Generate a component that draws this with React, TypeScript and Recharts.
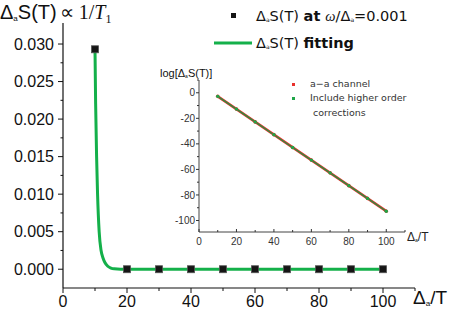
import React from 'react';
import { ComposedChart, Line, Scatter, XAxis, YAxis } from 'recharts';

// main panel: Δ_aS(T) at ω/Δ_a = 0.001
const pointX = [10, 20, 30, 40, 50, 60, 70, 80, 90, 100];
const pointY = [0.0293, 0, 0, 0, 0, 0, 0, 0, 0, 0];

// fitting curve
const fitX = [10, 10.2, 10.5, 10.8, 11.3, 11.9, 12.5, 13.1, 14, 15, 16, 18, 20, 30, 40, 50, 60, 70, 80, 90, 100];
const fitY = [0.0293, 0.022, 0.015, 0.01, 0.005, 0.0025, 0.0015, 0.0009, 0.0004, 0.00015, 0.00005, 0, 0, 0, 0, 0, 0, 0, 0, 0, 0];

// inset: log[Δ_aS(T)]
const insetX = [10, 20, 30, 40, 50, 60, 70, 80, 90, 100];
const channelY = [-2.8, -12.8, -22.8, -32.8, -42.8, -52.7, -62.7, -72.7, -82.7, -92.7];
const higherY = [-2.8, -12.8, -22.8, -32.8, -42.8, -52.7, -62.7, -72.7, -82.7, -92.7];

const mainXTicks = [0, 20, 40, 60, 80, 100];
const mainXMinor = [10, 30, 50, 70, 90, 110];
const mainYTicks = [0, 0.005, 0.01, 0.015, 0.02, 0.025, 0.03];
const mainYMinor = [0.0025, 0.0075, 0.0125, 0.0175, 0.0225, 0.0275];
const insetXTicks = [0, 20, 40, 60, 80, 100];
const insetXMinor = [10, 30, 50, 70, 90, 110];
const insetYTicks = [0, -20, -40, -60, -80, -100];
const insetYMinor = [10, -10, -30, -50, -70, -90];

const GREEN = '#14b04a';
const SANS = '"Liberation Sans", Arial, sans-serif';
const ROUND = '"DejaVu Sans", sans-serif';

const points = pointX.map((x, i) => ({ x, y: pointY[i] }));
const fit = fitX.map((x, i) => ({ x, y: fitY[i] }));
const inset = insetX.map((x, i) => ({ x, a: channelY[i], b: higherY[i] }));

function bottomTick(majors: number[], majorLen: number, minorLen: number, up: boolean, fs: number, gap: number, color: string) {
  return (props: any) => {
    const { x, y, payload } = props;
    const isMajor = majors.includes(payload.value);
    const len = isMajor ? majorLen : minorLen;
    return (
      <g>
        <line x1={x} x2={x} y1={y} y2={up ? y - len : y + len} stroke={color} strokeWidth={1} />
        {isMajor && (
          <text x={x} y={y + gap} textAnchor="middle" fontSize={fs} fontFamily={SANS} fill={color}>
            {payload.value}
          </text>
        )}
      </g>
    );
  };
}

function leftTick(majors: number[], majorLen: number, minorLen: number, fs: number, gap: number, color: string, fmt: (v: number) => string) {
  return (props: any) => {
    const { x, y, payload } = props;
    const isMajor = majors.includes(payload.value);
    const len = isMajor ? majorLen : minorLen;
    return (
      <g>
        <line x1={x - len} x2={x} y1={y} y2={y} stroke={color} strokeWidth={1} />
        {isMajor && (
          <text x={x - majorLen - gap} y={y} dy="0.36em" textAnchor="end" fontSize={fs} fontFamily={SANS} fill={color}>
            {fmt(payload.value)}
          </text>
        )}
      </g>
    );
  };
}

const Square = (props: any) => {
  const { cx, cy } = props;
  return <rect x={cx - 3.5} y={cy - 3.5} width={7} height={7} fill="#151515" stroke="#555" strokeWidth={0.8} />;
};

export default function App() {
  return (
    <div style={{ position: 'absolute', left: 0, top: 0, width: 450, height: 310, background: '#fff' }}>
      <div style={{ position: 'absolute', left: 0, top: 0 }}>
        <ComposedChart width={450} height={310} margin={{ top: 23, right: 35, bottom: 0, left: 0 }}>
          <XAxis
            dataKey="x"
            type="number"
            domain={[0, 110]}
            ticks={[...mainXTicks, ...mainXMinor].sort((a, b) => a - b)}
            interval={0}
            height={22}
            tickSize={0}
            tickMargin={0}
            axisLine={{ stroke: '#111', strokeWidth: 1.2 }}
            tickLine={false}
            tick={bottomTick(mainXTicks, 5, 3, false, 16, 19, '#111')}
            allowDataOverflow
          />
          <YAxis
            type="number"
            domain={[-0.0025, 0.0328]}
            ticks={[...mainYTicks, ...mainYMinor].sort((a, b) => a - b)}
            interval={0}
            width={63}
            tickSize={0}
            tickMargin={0}
            axisLine={{ stroke: '#111', strokeWidth: 1.2 }}
            tickLine={false}
            tick={leftTick(mainYTicks, 5, 2.5, 16, 4, '#111', (v) => v.toFixed(3))}
            allowDataOverflow
          />
          <Line data={fit} dataKey="y" type="monotone" stroke={GREEN} strokeWidth={3} dot={false} isAnimationActive={false} />
          <Scatter data={points} dataKey="y" shape={<Square />} isAnimationActive={false} />
        </ComposedChart>
      </div>

      <div style={{ position: 'absolute', left: 0, top: 0 }}>
        <ComposedChart width={450} height={310} data={inset} margin={{ top: 80, right: 45, bottom: 0, left: 0 }}>
          <XAxis
            dataKey="x"
            type="number"
            domain={[0, 110]}
            ticks={[...insetXTicks, ...insetXMinor].sort((a, b) => a - b)}
            interval={0}
            height={78}
            tickSize={0}
            tickMargin={0}
            axisLine={{ stroke: '#444', strokeWidth: 1 }}
            tickLine={false}
            tick={bottomTick(insetXTicks, 3, 2, true, 10, 13, '#333')}
            allowDataOverflow
          />
          <YAxis
            type="number"
            domain={[-109, 10]}
            ticks={[...insetYTicks, ...insetYMinor].sort((a, b) => a - b)}
            interval={0}
            width={199}
            tickSize={0}
            tickMargin={0}
            axisLine={{ stroke: '#444', strokeWidth: 1 }}
            tickLine={false}
            tick={leftTick(insetYTicks, 3, 2, 10, 1, '#333', (v) => String(v))}
            allowDataOverflow
          />
          <Line dataKey="a" type="linear" stroke="#e8302c" strokeWidth={2.6} dot={{ r: 1.8, fill: '#e8302c', stroke: 'none' }} isAnimationActive={false} />
          <Line dataKey="b" type="linear" stroke="#2a8f40" strokeWidth={1.3} dot={{ r: 1.7, fill: '#1fa548', stroke: 'none' }} isAnimationActive={false} />
        </ComposedChart>
      </div>

      <svg width={450} height={310} style={{ position: 'absolute', left: 0, top: 0, pointerEvents: 'none' }}>
        {/* y axis title */}
        <text x={0} y={19} fontSize={20} fontFamily={SANS} fill="#111">
          Δ<tspan fontSize={8} dy={2}>a</tspan>
          <tspan dy={-2}>S(T)</tspan>
          <tspan fontFamily='"Liberation Serif", serif' dx={3}>∝ 1/</tspan>
          <tspan fontFamily='"Liberation Serif", serif' fontStyle="italic">T</tspan>
          <tspan fontFamily='"Liberation Serif", serif' fontSize={12} dy={4}>1</tspan>
        </text>
        {/* x axis title */}
        <text x={413} y={304} fontSize={19} fontFamily={SANS} fill="#111">
          Δ<tspan fontSize={8} dy={2}>a</tspan>
          <tspan dy={-2}>/T</tspan>
        </text>

        {/* main legend */}
        <rect x={231} y={13} width={5} height={5} fill="#151515" />
        <text x={256} y={21} fontSize={14.5} fontFamily={ROUND} fill="#111">
          Δ<tspan fontSize={6} dy={1}>a</tspan>
          <tspan dy={-1}>S(T) </tspan>
          <tspan fontWeight="bold">at </tspan>
          <tspan fontFamily='"Liberation Serif", serif' fontStyle="italic">ω</tspan>
          <tspan>/Δ</tspan>
          <tspan fontSize={6} dy={1}>a</tspan>
          <tspan dy={-1}>=0.001</tspan>
        </text>
        <line x1={214} x2={252} y1={43} y2={43} stroke={GREEN} strokeWidth={3} />
        <text x={256} y={48} fontSize={14.5} fontFamily={ROUND} fill="#111">
          Δ<tspan fontSize={6} dy={1}>a</tspan>
          <tspan dy={-1}>S(T) </tspan>
          <tspan fontWeight="bold">fitting</tspan>
        </text>

        {/* inset title */}
        <text x={160} y={77} fontSize={11} fontFamily={SANS} fill="#111">
          log[Δ<tspan fontSize={5} dy={1}>a</tspan>
          <tspan dy={-1}>S(T)]</tspan>
        </text>
        <text x={407} y={241} fontSize={12} fontFamily={SANS} fill="#222">
          Δ<tspan fontSize={5} dy={1}>a</tspan>
          <tspan dy={-1}>/T</tspan>
        </text>

        {/* inset legend */}
        <rect x={292} y={83} width={3} height={3} fill="#e8302c" />
        <text x={310} y={87} fontSize={9.5} fontFamily={ROUND} fill="#333">a−a channel</text>
        <rect x={292} y={97} width={3} height={3} fill="#1fa548" />
        <text x={310} y={101} fontSize={9.5} fontFamily={ROUND} fill="#333">Include higher order</text>
        <text x={313} y={116} fontSize={9.5} fontFamily={ROUND} fill="#333">corrections</text>
      </svg>
    </div>
  );
}
